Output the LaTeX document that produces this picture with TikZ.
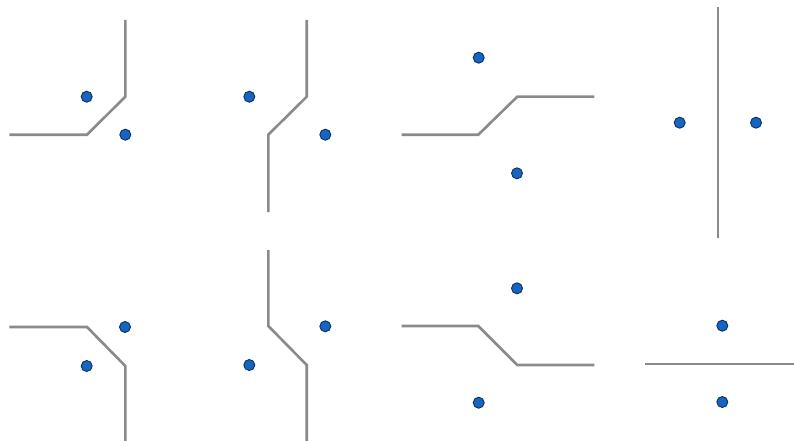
\documentclass[tikz,border=0pt]{standalone}
\usepackage{xcolor}
\usepackage{tikz}
\usetikzlibrary{positioning}
\definecolor{siteBlue}{HTML}{1665C4}
\definecolor{siteEdge}{HTML}{0F2F5C}
\definecolor{edgeGray}{HTML}{8A8A8A}
\begin{document}
\begin{tikzpicture}[
    x=1pt, y=-1pt,
    site/.style={circle, fill=siteBlue, draw=siteEdge, line width=0.9pt, minimum size=11pt, inner sep=0pt},
    bisector/.style={edgeGray, line width=2.6pt, line join=miter}
  ]
  \useasboundingbox (0,0) rectangle (794,441);

  % top row
  \node[site] (a1) at (86.7,96.7) {};
  \node[site] (a2) at (125.3,134.7) {};
  \draw[bisector] (9.3,134.7) -- (87,134.7) -- (125.3,96.7) -- (125.3,20);

  \node[site] (b1) at (249.3,96.7) {};
  \node[site] (b2) at (325.3,134.7) {};
  \draw[bisector] (306.7,20) -- (306.7,96.7) -- (268.3,134.7) -- (268.3,212);

  \node[site] (c1) at (478.7,57.7) {};
  \node[site] (c2) at (517,173.3) {};
  \draw[bisector] (401.7,134.7) -- (478.3,134.7) -- (517.3,96.7) -- (594.3,96.7);

  \node[site] (d1) at (679.7,122.7) {};
  \node[site] (d2) at (756,122.7) {};
  \draw[bisector] (718,7.3) -- (718,238.3);

  % bottom row
  \node[site] (e1) at (125,327) {};
  \node[site] (e2) at (86.7,366) {};
  \draw[bisector] (9.3,327) -- (87,327) -- (125.3,366) -- (125.3,441);

  \node[site] (f1) at (325.3,326.3) {};
  \node[site] (f2) at (249.3,365) {};
  \draw[bisector] (268.3,250) -- (268.3,326) -- (306.7,365) -- (306.7,441);

  \node[site] (g1) at (517,288.3) {};
  \node[site] (g2) at (478.7,402.7) {};
  \draw[bisector] (401.7,326) -- (478.3,326) -- (517.3,365) -- (594.3,365);

  \node[site] (h1) at (722.3,325.7) {};
  \node[site] (h2) at (722.3,402) {};
  \draw[bisector] (645,364) -- (794,364);
\end{tikzpicture}
\end{document}
